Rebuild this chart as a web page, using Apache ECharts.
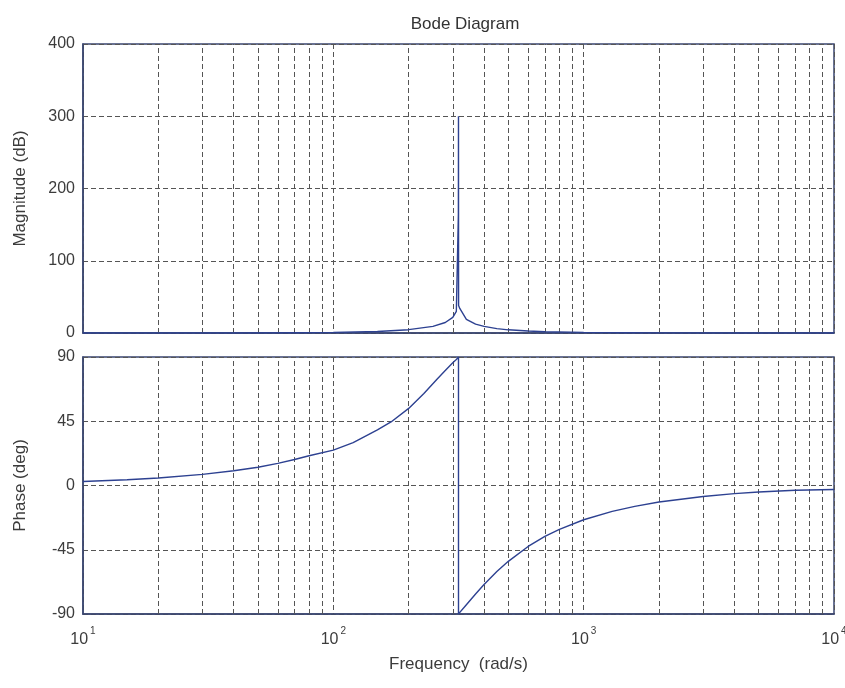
<!DOCTYPE html>
<html>
<head>
<meta charset="utf-8">
<script src="https://cdn.jsdelivr.net/npm/echarts@6/dist/echarts.min.js"></script>
<style>
html,body{margin:0;padding:0;background:#fff;}
#c{width:845px;height:688px;}
</style>
</head>
<body>
<div id="c"></div>
<script>
// ---- data ----
const magFreq = [10, 20, 40, 70, 100, 150, 200, 250, 280, 300, 310, 315.9, 316.2, 316.5, 320, 340, 370, 400, 450, 500, 600, 700, 1000, 1500, 2000, 4000, 10000];
const magDb   = [0, 0.03, 0.1, 0.4, 0.8, 2.0, 4.6, 9.1, 14.5, 21.6, 30, 165, 300, 38, 34, 19, 12.3, 9.1, 6.1, 4.4, 2.7, 1.8, 0.8, 0.35, 0.2, 0.05, 0];

const phaseFreq = [10, 15, 20, 30, 40, 50, 60, 70, 80, 100, 120, 150, 170, 200, 230, 260, 280, 300, 310, 316.2, 316.25, 320, 340, 370, 400, 450, 500, 600, 700, 800, 1000, 1300, 1600, 2000, 3000, 4000, 5000, 7000, 10000];
const phaseDeg  = [2.8, 4.0, 5.3, 7.8, 10.3, 12.8, 15.5, 18.2, 20.8, 24.8, 30, 39, 44.5, 54, 64.5, 74.6, 80.5, 86, 88.2, 89.9, -89.9, -88.9, -83.5, -76, -69.4, -60.3, -53.1, -42.7, -35.7, -30.7, -24, -18.1, -14.6, -11.6, -7.7, -5.7, -4.6, -3.3, -2.8];

const minorGridFreq = [20, 30, 40, 50, 60, 70, 80, 90, 200, 300, 400, 500, 600, 700, 800, 900, 2000, 3000, 4000, 5000, 6000, 7000, 8000, 9000];
const magTicks = [0, 100, 200, 300, 400];
const phaseTicks = [-90, -45, 0, 45, 90];
const freqRange = [10, 10000];

const chart = echarts.init(document.getElementById('c'), null, {renderer: 'canvas'});

const borderColor = '#3a4670';
const gridColor = '#555555';
const textColor = '#3c3c3c';
const lineColor = '#2d4191';
const font = 'Liberation Sans, Arial, sans-serif';

const dash = {type: [5, 3], color: gridColor, width: 1};

function pairs(xs, ys) { return xs.map((x, i) => [x, ys[i]]); }
function minorLines() {
  return {
    silent: true, symbol: ['none', 'none'], animation: false,
    label: {show: false},
    lineStyle: dash,
    emphasis: {disabled: true},
    data: minorGridFreq.map(f => ({xAxis: f}))
  };
}

const grids = [
  {left: 83, right: 11, top: 44, height: 289},
  {left: 83, right: 11, top: 357, height: 257}
];

const option = {
  animation: false,
  backgroundColor: '#ffffff',
  title: {
    text: 'Bode Diagram',
    left: 460, top: 11, textAlign: 'center',
    textStyle: {fontFamily: font, fontSize: 17, fontWeight: 'normal', color: '#333'}
  },
  grid: grids.map(g => Object.assign({show: true, borderColor: borderColor, borderWidth: 1.5, backgroundColor: 'transparent', containLabel: false, outerBoundsMode: 'none'}, g)),
  xAxis: [
    {
      type: 'log', logBase: 10, gridIndex: 0, min: freqRange[0], max: freqRange[1],
      axisLine: {show: true, onZero: false, lineStyle: {color: borderColor, width: 1.5}},
      axisTick: {show: false},
      axisLabel: {show: false},
      splitLine: {show: true, lineStyle: dash}
    },
    {
      type: 'log', logBase: 10, gridIndex: 1, min: freqRange[0], max: freqRange[1],
      axisLine: {show: true, onZero: false, lineStyle: {color: borderColor, width: 1.5}},
      axisTick: {show: false},
      splitLine: {show: true, lineStyle: dash},
      name: 'Frequency  (rad/s)', nameLocation: 'middle', nameGap: 42,
      nameTextStyle: {fontFamily: font, fontSize: 17, color: textColor},
      axisLabel: {
        margin: 12,
        formatter: function (v) {
          const e = Math.round(Math.log10(v));
          return '{b|10}{s|' + e + '}';
        },
        rich: {
          b: {fontFamily: font, fontSize: 16, color: textColor, verticalAlign: 'bottom'},
          s: {fontFamily: font, fontSize: 10, color: textColor, verticalAlign: 'top', padding: [0, 0, 12, 2]}
        }
      }
    }
  ],
  yAxis: [
    {
      type: 'value', gridIndex: 0, min: magTicks[0], max: magTicks[magTicks.length - 1], interval: 100,
      axisLine: {show: true, onZero: false, lineStyle: {color: borderColor, width: 1.5}},
      axisTick: {show: false},
      axisLabel: {fontFamily: font, fontSize: 16, color: textColor, margin: 8},
      splitLine: {show: true, lineStyle: dash},
      name: 'Magnitude (dB)', nameLocation: 'middle', nameGap: 54,
      nameTextStyle: {fontFamily: font, fontSize: 17, color: textColor}
    },
    {
      type: 'value', gridIndex: 1, min: phaseTicks[0], max: phaseTicks[phaseTicks.length - 1], interval: 45,
      axisLine: {show: true, onZero: false, lineStyle: {color: borderColor, width: 1.5}},
      axisTick: {show: false},
      axisLabel: {fontFamily: font, fontSize: 16, color: textColor, margin: 8},
      splitLine: {show: true, lineStyle: dash},
      name: 'Phase (deg)', nameLocation: 'middle', nameGap: 54,
      nameTextStyle: {fontFamily: font, fontSize: 17, color: textColor}
    }
  ],
  series: [
    {
      type: 'line', xAxisIndex: 0, yAxisIndex: 0, data: pairs(magFreq, magDb),
      symbol: 'none', lineStyle: {color: lineColor, width: 1.4}, itemStyle: {color: lineColor},
      markLine: minorLines(), z: 5
    },
    {
      type: 'line', xAxisIndex: 1, yAxisIndex: 1, data: pairs(phaseFreq, phaseDeg),
      symbol: 'none', lineStyle: {color: lineColor, width: 1.4}, itemStyle: {color: lineColor},
      markLine: minorLines(), z: 5
    }
  ]
};

chart.setOption(option);
</script>
</body>
</html>
